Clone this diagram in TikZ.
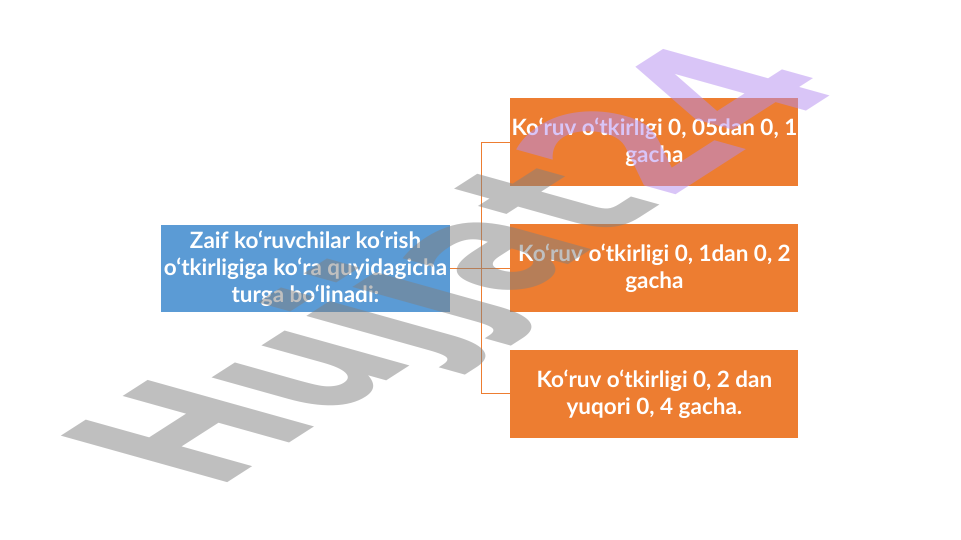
\documentclass[tikz,border=0pt]{standalone}
\usepackage{fontspec}
\setmainfont{Lato}
\newfontfamily\wmfont{DejaVu Sans Bold}
\usepackage{tikz}
\usetikzlibrary{positioning}

\definecolor{rootblue}{RGB}{91,155,213}
\definecolor{kindorange}{RGB}{237,125,49}
\definecolor{wmgray}{RGB}{128,128,128}
\definecolor{wmpurple}{RGB}{180,140,240}

\tikzset{
    rootbox/.style={fill=rootblue, text=white, minimum width=289pt, minimum height=87pt, inner sep=0pt, align=center, font=\bfseries\fontsize{22.5}{27}\selectfont},
    kindbox/.style={fill=kindorange, text=white, minimum width=288pt, minimum height=88pt, inner sep=0pt, align=center, font=\bfseries\fontsize{22.5}{27}\selectfont},
    branch/.style={draw=kindorange, line width=0.8pt}
}

\begin{document}
\begin{tikzpicture}[node distance=38pt]

        \useasboundingbox (0,0) rectangle (961pt,540pt);

        % Main box
        \node (root) [rootbox] at (305.5pt,271.5pt) {Zaif ko‘ruvchilar ko‘rish\\o‘tkirligiga ko‘ra quyidagicha\\turga bo‘linadi:};

        % Kinds of weak sight
        \node (k2) [kindbox, right=60pt of root] {Ko‘ruv o‘tkirligi 0, 1dan 0, 2\\gacha};
        \node (k1) [kindbox, above=38pt of k2] {Ko‘ruv o‘tkirligi 0, 05dan 0, 1\\gacha};
        \node (k3) [kindbox, below=37pt of k2] {Ko‘ruv o‘tkirligi 0, 2 dan\\yuqori 0, 4 gacha.};

        % Connectors
        \draw[branch] (root.east) -- (k2.west);
        \draw[branch] (k1.west) -- ++(-29pt,0) coordinate (hub) |- (k3.west);

        % Watermark
        \begin{scope}[cm={0.841,0.540,-1.445,0.404,(215pt,49pt)}]
            \node (wm) [transform shape, anchor=base west, text opacity=0.5, inner sep=0pt, font=\wmfont\fontsize{158}{158}\selectfont] at (0,0) {\textcolor{wmgray}{Hujjat}\textcolor{wmpurple}{24}};
        \end{scope}

\end{tikzpicture}
\end{document}
